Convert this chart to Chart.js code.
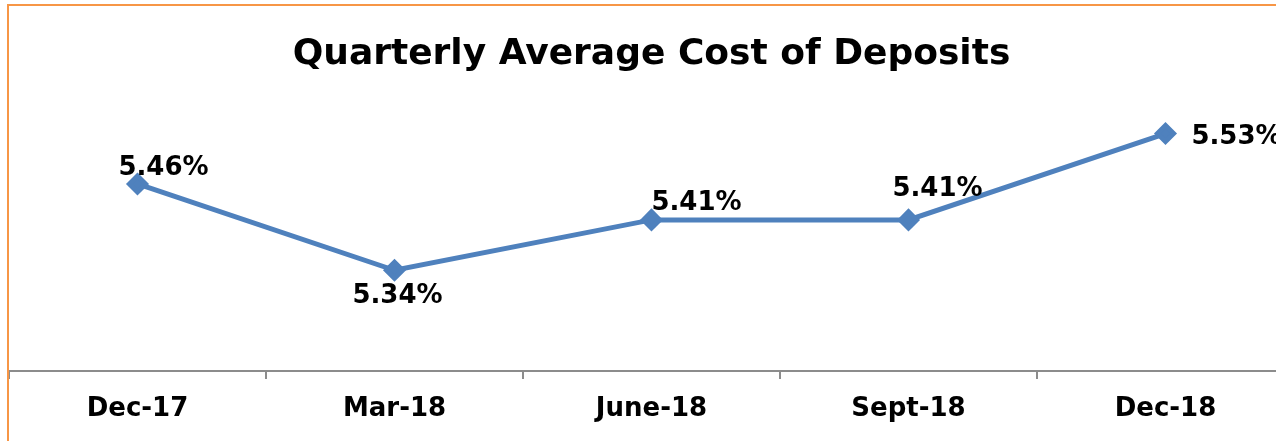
<!DOCTYPE html>
<html>
<head>
<meta charset="utf-8">
<script src="https://cdn.jsdelivr.net/npm/chart.js@4.4.0/dist/chart.umd.min.js"></script>
<style>
  html, body { margin: 0; padding: 0; background: #fff; overflow: hidden; }
  #frame {
    position: absolute;
    left: 7px;
    top: 4px;
    width: 1285px;
    height: 440px;
    border: 2px solid #F79646;
  }
  #costChart { display: block; }
</style>
</head>
<body>
<div id="frame">
  <canvas id="costChart" width="1285" height="440"></canvas>
</div>
<script>
// chart data
const quarters = ["Dec-17", "Mar-18", "June-18", "Sept-18", "Dec-18"];
const costOfDeposits = [5.46, 5.34, 5.41, 5.41, 5.53];

document.addEventListener("DOMContentLoaded", () => {
  const ctx = document.getElementById("costChart").getContext("2d");
  const fontFamily = "'DejaVu Sans', sans-serif";

  // draws the value labels next to each point, like the Excel data labels
  const valueLabels = {
    id: "valueLabels",
    afterDatasetsDraw(chart, args, opts) {
      const c = chart.ctx;
      const meta = chart.getDatasetMeta(0);
      c.save();
      c.font = opts.font;
      c.fillStyle = opts.color;
      c.textAlign = "center";
      c.textBaseline = "middle";
      meta.data.forEach((pt, i) => {
        const off = opts.offsets[i];
        const value = chart.data.datasets[0].data[i];
        c.fillText(value.toFixed(2) + "%", pt.x + off[0], pt.y + off[1]);
      });
      c.restore();
    },
  };

  new Chart(ctx, {
    type: "line",
    data: {
      labels: quarters,
      datasets: [
        {
          label: "Cost of Deposits",
          data: costOfDeposits,
          borderColor: "#4F81BD",
          backgroundColor: "#4F81BD",
          borderWidth: 5,
          pointStyle: "rectRot",
          pointRadius: 8,
          pointHoverRadius: 8,
          tension: 0,
          clip: false,
        },
      ],
    },
    options: {
      responsive: false,
      animation: false,
      layout: { autoPadding: false, padding: 0 },
      scales: {
        x: {
          offset: true,
          grid: {
            offset: true,
            drawOnChartArea: false,
            drawTicks: true,
            tickLength: 8,
            color: "#8C8C8C",
            lineWidth: 2,
          },
          border: { display: true, color: "#8C8C8C", width: 2 },
          ticks: {
            color: "#000",
            padding: 15,
            font: { family: fontFamily, size: 26, weight: "bold" },
          },
          afterFit: (scale) => {
            scale.height = 75;
          },
        },
        y: {
          display: false,
          min: 5.2,
          max: 5.6,
        },
      },
      plugins: {
        legend: { display: false },
        tooltip: { enabled: false },
        title: {
          display: true,
          text: "Quarterly Average Cost of Deposits",
          color: "#000",
          font: { family: fontFamily, size: 36, weight: "bold", lineHeight: 1.2 },
          padding: { top: 27, bottom: 7 },
        },
        valueLabels: {
          font: "bold 26px " + fontFamily,
          color: "#000",
          offsets: [[26, -16], [3, 26], [45, -17], [29, -31], [71, 4]],
        },
      },
    },
    plugins: [valueLabels],
  });
});
</script>
</body>
</html>
